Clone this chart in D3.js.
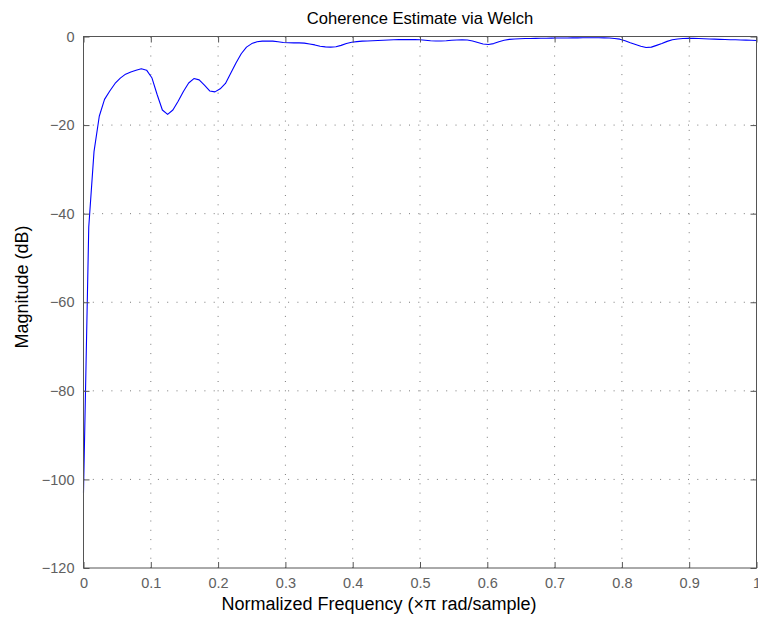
<!DOCTYPE html>
<html>
<head>
<meta charset="utf-8">
<script src="https://cdn.jsdelivr.net/npm/d3@7/dist/d3.min.js"></script>
<style>
  html, body { margin: 0; padding: 0; background: #fff; }
  svg { display: block; font-family: "Liberation Sans", Arial, Helvetica, sans-serif; }
</style>
</head>
<body>
<svg id="chart" width="758" height="618"></svg>
<script>
// Coherence magnitude (dB) on a uniform grid from 0 to 1 (x pi rad/sample), 129 bins
const coherenceDb = [
  -103, -43, -26, -18, -14.2, -12.3, -10.6, -9.4, -8.5, -8.0,
  -7.6, -7.3, -7.6, -9.3, -13.1, -16.6, -17.6, -16.6, -14.6, -12.4,
  -10.5, -9.5, -9.8, -11.0, -12.3, -12.5, -11.8, -10.6, -8.3, -6.0,
  -3.9, -2.4, -1.6, -1.2, -1.05, -1.0, -1.05, -1.2, -1.35, -1.4,
  -1.45, -1.45, -1.5, -1.7, -1.9, -2.2, -2.35, -2.4, -2.3, -2.0,
  -1.6, -1.3, -1.15, -1.05, -1.0, -0.95, -0.9, -0.85, -0.8, -0.75,
  -0.7, -0.7, -0.7, -0.7, -0.75, -0.85, -0.95, -1.0, -1.0, -0.95,
  -0.85, -0.8, -0.75, -0.8, -1.0, -1.35, -1.7, -1.8, -1.6, -1.2,
  -0.85, -0.65, -0.55, -0.5, -0.45, -0.45, -0.42, -0.4, -0.38, -0.36,
  -0.35, -0.34, -0.33, -0.32, -0.3, -0.28, -0.27, -0.27, -0.28, -0.3,
  -0.35, -0.45, -0.6, -0.95, -1.4, -1.8, -2.2, -2.5, -2.4, -2.0,
  -1.6, -1.1, -0.75, -0.55, -0.45, -0.4, -0.42, -0.45, -0.5, -0.55,
  -0.6, -0.65, -0.68, -0.72, -0.75, -0.78, -0.82, -0.86, -0.9
];
const freq = coherenceDb.map((_, i) => i / (coherenceDb.length - 1));

const xTicks = [0, 0.1, 0.2, 0.3, 0.4, 0.5, 0.6, 0.7, 0.8, 0.9, 1];
const yTicks = [-120, -100, -80, -60, -40, -20, 0];
const xTickLabels = ["0", "0.1", "0.2", "0.3", "0.4", "0.5", "0.6", "0.7", "0.8", "0.9", "1"];
const yTickLabels = ["\u2212120", "\u2212100", "\u221280", "\u221260", "\u221240", "\u221220", "0"];

const titleText = "Coherence Estimate via Welch";
const xLabelText = "Normalized Frequency (\u00d7\u03c0 rad/sample)";
const yLabelText = "Magnitude (dB)";

const svg = d3.select("#chart");
const margin = { left: 83.5, top: 36.5, right: 1.5 };
const W = 758;
const plotW = W - margin.left - margin.right;   // 673
const plotH = 568 - margin.top;                  // 531.5

const x = d3.scaleLinear().domain([0, 1]).range([0, plotW]);
const y = d3.scaleLinear().domain([-120, 0]).range([plotH, 0]);

const g = svg.append("g").attr("transform", `translate(${margin.left},${margin.top})`);

const axisColor = "#555";
const labelColor = "#606060";

// dotted grid
const grid = g.append("g").attr("stroke", "#7a7a7a").attr("stroke-width", 1)
  .attr("stroke-dasharray", "1,8.3").attr("fill", "none");
xTicks.slice(1, -1).forEach(t => {
  grid.append("line").attr("x1", x(t)).attr("x2", x(t)).attr("y1", plotH).attr("y2", 0);
});
yTicks.slice(1, -1).forEach(t => {
  grid.append("line").attr("x1", 0).attr("x2", plotW).attr("y1", y(t)).attr("y2", y(t));
});

// data line
const line = d3.line().x((d, i) => x(freq[i])).y(d => y(d));
g.append("path").datum(coherenceDb)
  .attr("d", line)
  .attr("fill", "none")
  .attr("stroke", "#0000ff")
  .attr("stroke-width", 1.1)
  .attr("stroke-linejoin", "round");

// axes with inward ticks on all four sides
const tickLen = 6;
const fontPx = 14.5;
const styleAxis = sel => {
  sel.select(".domain").remove();
  sel.selectAll(".tick line").attr("stroke", axisColor);
  sel.selectAll(".tick text").attr("fill", labelColor).style("font-size", fontPx + "px")
    .style("font-family", '"Liberation Sans", Arial, sans-serif');
};

const xAxisB = g.append("g").attr("transform", `translate(0,${plotH})`)
  .call(d3.axisBottom(x).tickValues(xTicks).tickFormat((d, i) => xTickLabels[i])
    .tickSizeInner(-tickLen).tickSizeOuter(0).tickPadding(10));
styleAxis(xAxisB);

const xAxisT = g.append("g")
  .call(d3.axisTop(x).tickValues(xTicks).tickFormat("").tickSizeInner(-tickLen).tickSizeOuter(0));
styleAxis(xAxisT);

const yAxisL = g.append("g")
  .call(d3.axisLeft(y).tickValues(yTicks).tickFormat((d, i) => yTickLabels[i])
    .tickSizeInner(-tickLen).tickSizeOuter(0).tickPadding(9));
styleAxis(yAxisL);

const yAxisR = g.append("g").attr("transform", `translate(${plotW},0)`)
  .call(d3.axisRight(y).tickValues(yTicks).tickFormat("").tickSizeInner(-tickLen).tickSizeOuter(0));
styleAxis(yAxisR);

// box
g.append("rect").attr("x", 0).attr("y", 0).attr("width", plotW).attr("height", plotH)
  .attr("fill", "none").attr("stroke", axisColor).attr("stroke-width", 1);

// title and axis labels
svg.append("text").attr("x", margin.left + plotW / 2).attr("y", 24)
  .attr("text-anchor", "middle").attr("fill", "#000")
  .style("font-size", "16.6px").text(titleText);

svg.append("text").attr("x", 379).attr("y", 610)
  .attr("text-anchor", "middle").attr("fill", "#000")
  .style("font-size", "18px").text(xLabelText);

svg.append("text")
  .attr("transform", "translate(28,287) rotate(-90)")
  .attr("text-anchor", "middle").attr("fill", "#000")
  .style("font-size", "18px").text(yLabelText);
</script>
</body>
</html>
